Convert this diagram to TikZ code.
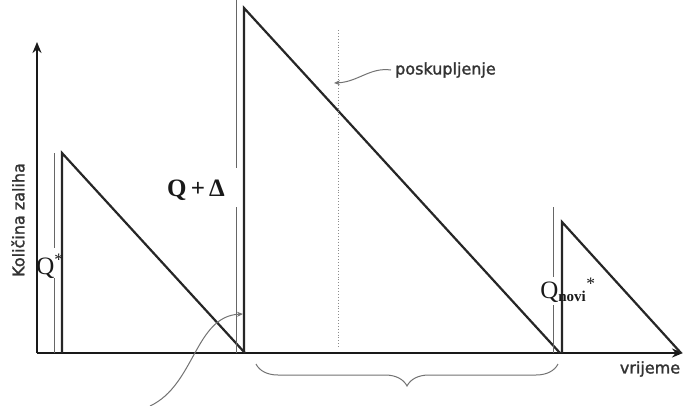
\documentclass[tikz,border=0pt]{standalone}
\usepackage{fontspec}
\setmainfont{Liberation Serif}
\newfontfamily\labfont[FakeBold=1.6]{DejaVu Sans}
\usetikzlibrary{arrows.meta,decorations.pathreplacing}
\begin{document}
\begin{tikzpicture}[x=1pt,y=-1pt,
  thickline/.style={draw=black!85, line width=2.2pt, line join=miter},
  thinline/.style={draw=black!60, line width=1pt},
  axisline/.style={draw=black!90, line width=2.3pt, -{Stealth[length=11pt,width=9pt]}},
  pointer/.style={draw=black!55, line width=1pt, -{Stealth[length=6pt,width=5pt]}},
  axislabel/.style={font=\labfont\fontsize{16}{18}\selectfont, text=black!80, inner sep=0pt},
  qlabel/.style={font=\fontsize{25}{27}\selectfont, text=black!90, inner sep=0pt}]
\path[use as bounding box, fill=white] (0,0) rectangle (683,405);
% axes
\coordinate (O) at (37,353);
\coordinate (Ytop) at (37,42);
\coordinate (Xend) at (683,353);
\draw[axisline] (O) -- (Ytop);
\draw[axisline] (O) -- (Xend);
% first cycle
\coordinate (A1) at (62,353);
\coordinate (A2) at (62,153);
\coordinate (A3) at (245,353);
\draw[thickline] (A1) -- (A2) -- (A3);
\coordinate (qa1) at (54,153);
\coordinate (qa2) at (54,248);
\coordinate (qa3) at (54,278);
\coordinate (qa4) at (54,353);
\draw[thinline] (qa1) -- (qa2);
\draw[thinline] (qa3) -- (qa4);
\node[qlabel] (qs) at (50,266) {Q\textsuperscript{*}};
% second cycle
\coordinate (B1) at (244,353);
\coordinate (B2) at (244,8);
\coordinate (B3) at (560,353);
\draw[thickline] (B1) -- (B2) -- (B3);
\coordinate (qb1) at (236,0);
\coordinate (qb2) at (236,168);
\coordinate (qb3) at (236,207);
\coordinate (qb4) at (236,353);
\draw[thinline] (qb1) -- (qb2);
\draw[thinline] (qb3) -- (qb4);
\node[font=\bfseries\fontsize{25}{28}\selectfont, text=black!90, inner sep=0pt] (qd) at (196,190) {Q\,+\,Δ};
% price increase marker
\coordinate (D1) at (338,30);
\coordinate (D2) at (338,348);
\draw[draw=black!45, line width=0.9pt, dotted] (D1) -- (D2);
\node[axislabel, anchor=west] (posk) at (395,70) {poskupljenje};
\coordinate (pk) at (334,83);
\draw[pointer] ([xshift=-4pt]posk.west) .. controls (370,67) and (358,82) .. (pk);
% third cycle
\coordinate (C1) at (562,353);
\coordinate (C2) at (562,222);
\coordinate (C3) at (681,353);
\draw[thickline] (C1) -- (C2) -- (C3);
\coordinate (qc1) at (553,207);
\coordinate (qc2) at (553,277);
\coordinate (qc3) at (553,305);
\coordinate (qc4) at (553,353);
\draw[thinline] (qc1) -- (qc2);
\draw[thinline] (qc3) -- (qc4);
\node[qlabel] (qn) at (568,290) {Q\textsubscript{\fontsize{15}{15}\selectfont\bfseries novi}\textsuperscript{*}};
% brace
\coordinate (br1) at (256,364);
\coordinate (br2) at (558,364);
\draw[draw=black!55, line width=1pt, decorate, decoration={brace, mirror, amplitude=22pt}] (br1) -- (br2);
% curved pointer from below
\coordinate (c0) at (150,406);
\coordinate (c1) at (243,314);
\draw[pointer] (c0) .. controls (195,385) and (195,316) .. (c1);
% axis labels
\node[axislabel, rotate=90] (ylab) at (18,220) {Količina zaliha};
\node[axislabel] (xlab) at (650,369) {vrijeme};
\end{tikzpicture}
\end{document}
